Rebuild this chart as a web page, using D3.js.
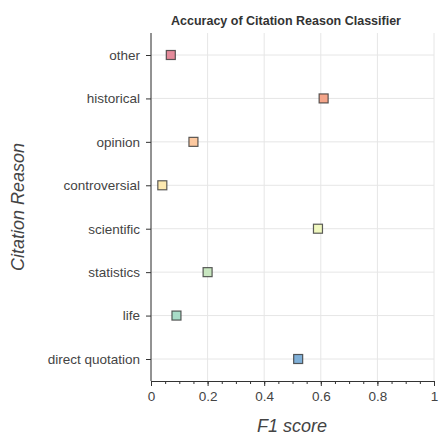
<!DOCTYPE html><html><head><script src="https://cdn.jsdelivr.net/npm/d3@7"></script>
<style>body{margin:0;background:#fff}</style></head><body><svg id="c" width="440" height="440"></svg>
<script>
const categories=["other","historical","opinion","controversial","scientific","statistics","life","direct quotation"];
const values=[0.07,0.61,0.15,0.04,0.59,0.20,0.09,0.52];
const colors=["#e48a9a","#f4a58a","#fdc9a0","#fde9b0","#f0f8c0","#c8e6c0","#a8dcc8","#80b0d8"];
const xTicks=[0,0.2,0.4,0.6,0.8,1];
const svg=d3.select("#c"),L=151,R=434,T=33,B=381;
const x=d3.scaleLinear().domain([0,1]).range([L,R]);
const y=d3.scalePoint().domain(categories).range([55,359]);
const f="Liberation Sans, Arial, sans-serif";
svg.append("g").selectAll("line").data(xTicks).join("line").attr("x1",d=>x(d)).attr("x2",d=>x(d)).attr("y1",T).attr("y2",B).attr("stroke","#e6e6e6");
svg.append("g").selectAll("line").data(categories).join("line").attr("x1",L).attr("x2",R).attr("y1",d=>y(d)).attr("y2",d=>y(d)).attr("stroke","#e6e6e6");
svg.append("g").attr("transform",`translate(0,${B})`).call(d3.axisBottom(x).ticks(20).tickFormat("").tickSize(3).tickSizeOuter(0)).call(g=>g.select(".domain").remove()).call(g=>g.selectAll("text").remove());
const xa=svg.append("g").attr("transform",`translate(0,${B})`).call(d3.axisBottom(x).tickValues(xTicks).tickFormat(d=>d3.format("~g")(d)).tickSize(5).tickPadding(5).tickSizeOuter(0));
const ya=svg.append("g").attr("transform",`translate(${L},0)`).call(d3.axisLeft(y).tickSize(5).tickSizeOuter(0).tickPadding(6));
ya.select(".domain").attr("d",`M0,${T}V${B}`);
svg.selectAll(".tick text").attr("font-family",f).style("font-size","13.5px").attr("fill","#444");
svg.selectAll(".domain,.tick line").attr("stroke","#333");
svg.append("g").selectAll("rect").data(values).join("rect").attr("x",d=>x(d)-4.5).attr("y",(d,i)=>y(categories[i])-4.5).attr("width",9).attr("height",9).attr("fill",(d,i)=>colors[i]).attr("stroke","#333").attr("stroke-opacity",0.8).attr("stroke-width",1.2);
svg.append("text").attr("x",286).attr("y",25).attr("text-anchor","middle").attr("font-family",f).style("font-size","12.5px").attr("font-weight","bold").attr("fill","#333").text("Accuracy of Citation Reason Classifier");
svg.append("text").attr("x",292).attr("y",432).attr("text-anchor","middle").attr("font-family",f).style("font-size","18px").attr("font-style","italic").attr("fill","#444").text("F1 score");
svg.append("text").attr("transform","translate(24,207) rotate(-90)").attr("text-anchor","middle").attr("font-family",f).style("font-size","18px").attr("font-style","italic").attr("fill","#444").text("Citation Reason");
</script></body></html>
